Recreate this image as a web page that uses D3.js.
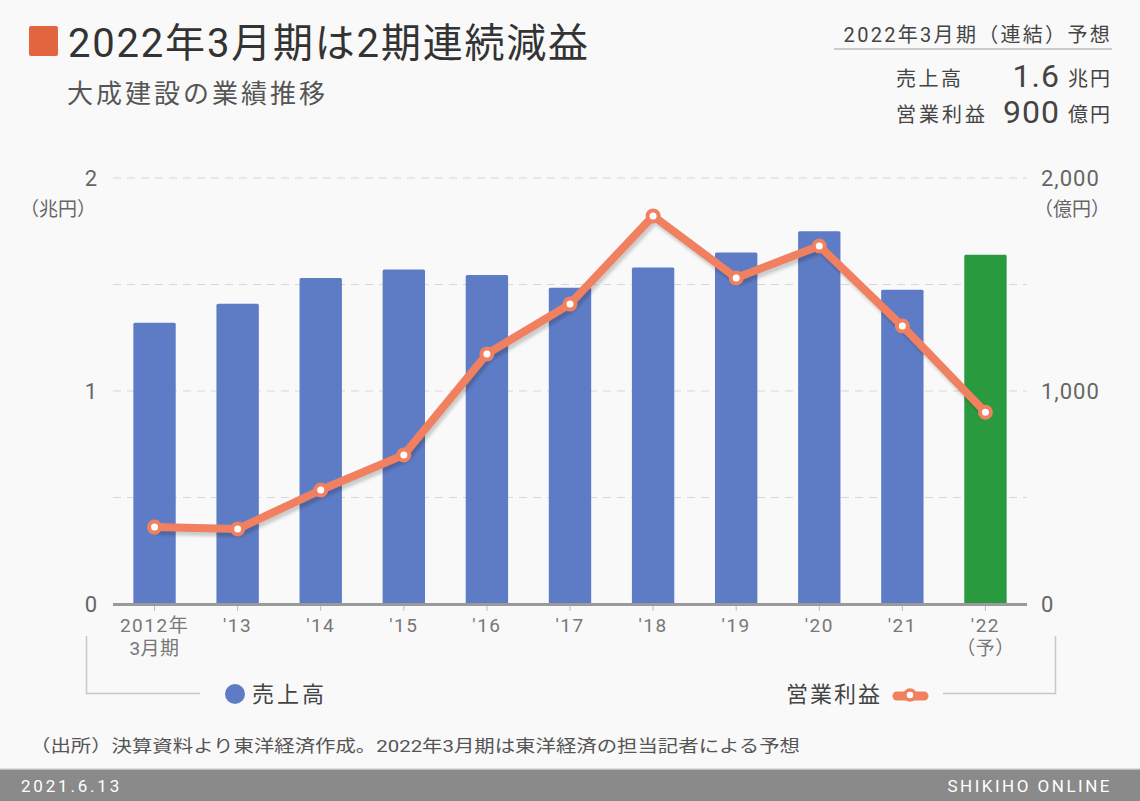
<!DOCTYPE html>
<html><head><meta charset="utf-8">
<script src="https://cdn.jsdelivr.net/npm/d3@7"></script>
<style>
html,body{margin:0;padding:0;background:#f9f9f9;}
svg{display:block;font-family:Roboto,"Noto Sans CJK JP",sans-serif;}
</style></head>
<body>
<svg id="c" width="1140" height="801"></svg>
<script>
const categories = ["2012年","'13","'14","'15","'16","'17","'18","'19","'20","'21","'22"];
const subLabels = ["3月期","","","","","","","","","","（予）"];
const sales = [1.32,1.41,1.53,1.57,1.545,1.485,1.58,1.65,1.75,1.475,1.64];   // 兆円
const profit = [361,352,535,700,1174,1408,1822,1531,1681,1305,900];            // 億円
const forecastIndex = 10;
const leftTicks = [0,1,2];
const rightTicks = [0,1000,2000];

const svg = d3.select("#c");
const W = 1140, H = 801;
svg.append("rect").attr("width",W).attr("height",H).attr("fill","#f9f9f9");

const x = d3.scaleBand().domain(categories).range([113,1027]).paddingInner(0.49).paddingOuter(0.245);
const yL = d3.scaleLinear().domain([0,2]).range([604,178]);
const yR = d3.scaleLinear().domain([0,2000]).range([604,178]);

// gridlines
svg.append("g").selectAll("line").data([0.5,1,1.5,2]).join("line")
  .attr("x1",113).attr("x2",1027).attr("y1",d=>yL(d)).attr("y2",d=>yL(d))
  .attr("stroke","#d8d8d8").attr("stroke-width",1.2).attr("stroke-dasharray","8,6");

// bars
svg.append("g").selectAll("rect").data(sales).join("rect")
  .attr("x",(d,i)=>x(categories[i])).attr("width",x.bandwidth())
  .attr("y",d=>yL(d)).attr("height",d=>yL(0)-yL(d))
  .attr("rx",1.5)
  .attr("fill",(d,i)=>i===forecastIndex?"#2a9a3f":"#5e7cc6");

// x axis line
svg.append("line").attr("x1",113).attr("x2",1027).attr("y1",604.5).attr("y2",604.5)
  .attr("stroke","#9a9a9a").attr("stroke-width",3);
svg.append("g").selectAll("line").data(categories).join("line")
  .attr("x1",d=>x(d)+x.bandwidth()/2).attr("x2",d=>x(d)+x.bandwidth()/2)
  .attr("y1",606).attr("y2",611).attr("stroke","#bbb").attr("stroke-width",1);

// x labels
const xl = svg.append("g").attr("fill","#777").attr("font-size",19).attr("text-anchor","middle");
categories.forEach((c,i)=>{
  const cx = x(c)+x.bandwidth()/2;
  xl.append("text").attr("x",cx).attr("y",632).attr("letter-spacing",1.5).text(c);
  if(subLabels[i]) xl.append("text").attr("x",cx).attr("y",655).attr("letter-spacing",0.5).text(subLabels[i]);
});

// y axis labels
const la = svg.append("g").attr("fill","#666").attr("font-size",22);
leftTicks.forEach(t=>{
  la.append("text").attr("x",97).attr("y",yL(t)+8).attr("text-anchor","end").text(t);
});
la.append("text").attr("x",96).attr("y",216).attr("text-anchor","end").attr("font-size",19).text("（兆円）");
const fmt = d3.format(",");
rightTicks.forEach(t=>{
  la.append("text").attr("x",1041).attr("y",yR(t)+8).attr("text-anchor","start").attr("letter-spacing",1).text(fmt(t));
});
la.append("text").attr("x",1034).attr("y",216).attr("text-anchor","start").attr("font-size",19).text("（億円）");

// line
const defs = svg.append("defs");
const f = defs.append("filter").attr("id","sh").attr("x","-10%").attr("y","-10%").attr("width","120%").attr("height","130%");
f.append("feGaussianBlur").attr("stdDeviation",1.5);
const line = d3.line().x((d,i)=>x(categories[i])+x.bandwidth()/2).y(d=>yR(d));
svg.append("path").datum(profit).attr("d",line).attr("transform","translate(2,4)")
  .attr("fill","none").attr("stroke","rgba(0,0,0,0.18)").attr("stroke-width",8).attr("stroke-linejoin","round").attr("filter","url(#sh)");
svg.append("path").datum(profit).attr("d",line)
  .attr("fill","none").attr("stroke","#f08060").attr("stroke-width",8).attr("stroke-linejoin","round");
svg.append("g").selectAll("circle").data(profit).join("circle")
  .attr("cx",(d,i)=>x(categories[i])+x.bandwidth()/2).attr("cy",d=>yR(d))
  .attr("r",5.5).attr("fill","#fff").attr("stroke","#f08060").attr("stroke-width",4);

// legend brackets
svg.append("path").attr("d","M86.5,636 V693.5 H200").attr("fill","none").attr("stroke","#c8c8c8").attr("stroke-width",1.5);
svg.append("path").attr("d","M943,693.5 H1055.5 V636").attr("fill","none").attr("stroke","#c8c8c8").attr("stroke-width",1.5);
svg.append("circle").attr("cx",235).attr("cy",694).attr("r",10).attr("fill","#5e7cc6");
svg.append("text").attr("x",252).attr("y",702).attr("font-size",22).attr("fill","#444").attr("letter-spacing",3).text("売上高");
svg.append("text").attr("x",882).attr("y",702).attr("font-size",22).attr("fill","#444").attr("text-anchor","end").attr("letter-spacing",2).text("営業利益");
svg.append("line").attr("x1",897).attr("x2",924).attr("y1",696).attr("y2",696).attr("stroke","#f08060").attr("stroke-width",9).attr("stroke-linecap","round");
svg.append("circle").attr("cx",910).attr("cy",695).attr("r",5).attr("fill","#fff").attr("stroke","#f08060").attr("stroke-width",3.5);

// title
svg.append("rect").attr("x",29).attr("y",26).attr("width",29).attr("height",30).attr("rx",2).attr("fill","#e36540");
svg.append("text").attr("x",68).attr("y",57).attr("font-size",40).attr("fill","#333").attr("letter-spacing",1.8).text("2022年3月期は2期連続減益");
svg.append("text").attr("x",67).attr("y",103).attr("font-size",26).attr("fill","#555").attr("letter-spacing",3).text("大成建設の業績推移");

// top-right box
svg.append("text").attr("x",1112).attr("y",42).attr("text-anchor","end").attr("font-size",20).attr("fill","#444").attr("letter-spacing",2.3).text("2022年3月期（連結）予想");
svg.append("line").attr("x1",834).attr("x2",1112).attr("y1",49).attr("y2",49).attr("stroke","#bbb").attr("stroke-width",1.5);
svg.append("text").attr("x",896).attr("y",86).attr("font-size",20).attr("fill","#444").attr("letter-spacing",2.5).text("売上高");
svg.append("text").attr("x",1060).attr("y",87).attr("text-anchor","end").attr("font-size",32).attr("fill","#444").attr("letter-spacing",1).text("1.6");
svg.append("text").attr("x",1112).attr("y",86).attr("text-anchor","end").attr("font-size",20).attr("fill","#444").attr("letter-spacing",2).text("兆円");
svg.append("text").attr("x",896).attr("y",122).attr("font-size",20).attr("fill","#444").attr("letter-spacing",3).text("営業利益");
svg.append("text").attr("x",1060).attr("y",123).attr("text-anchor","end").attr("font-size",32).attr("fill","#444").attr("letter-spacing",1).text("900");
svg.append("text").attr("x",1112).attr("y",122).attr("text-anchor","end").attr("font-size",20).attr("fill","#444").attr("letter-spacing",2).text("億円");

// source
svg.append("text").attr("x",30).attr("y",752).attr("font-size",17).attr("fill","#555")
  .attr("textLength",770).attr("lengthAdjust","spacingAndGlyphs")
  .text("（出所）決算資料より東洋経済作成。2022年3月期は東洋経済の担当記者による予想");

// footer
svg.append("rect").attr("x",0).attr("y",768).attr("width",W).attr("height",1.5).attr("fill","#e0e0e0");
svg.append("rect").attr("x",0).attr("y",769.5).attr("width",W).attr("height",H-769.5).attr("fill","#8a8a8a");
svg.append("text").attr("x",21).attr("y",792).attr("font-size",17).attr("fill","#fff").attr("letter-spacing",2.8).text("2021.6.13");
svg.append("text").attr("x",1112).attr("y",792).attr("font-size",17).attr("fill","#fff").attr("text-anchor","end").attr("letter-spacing",2.5).text("SHIKIHO ONLINE");
</script>
</body></html>
